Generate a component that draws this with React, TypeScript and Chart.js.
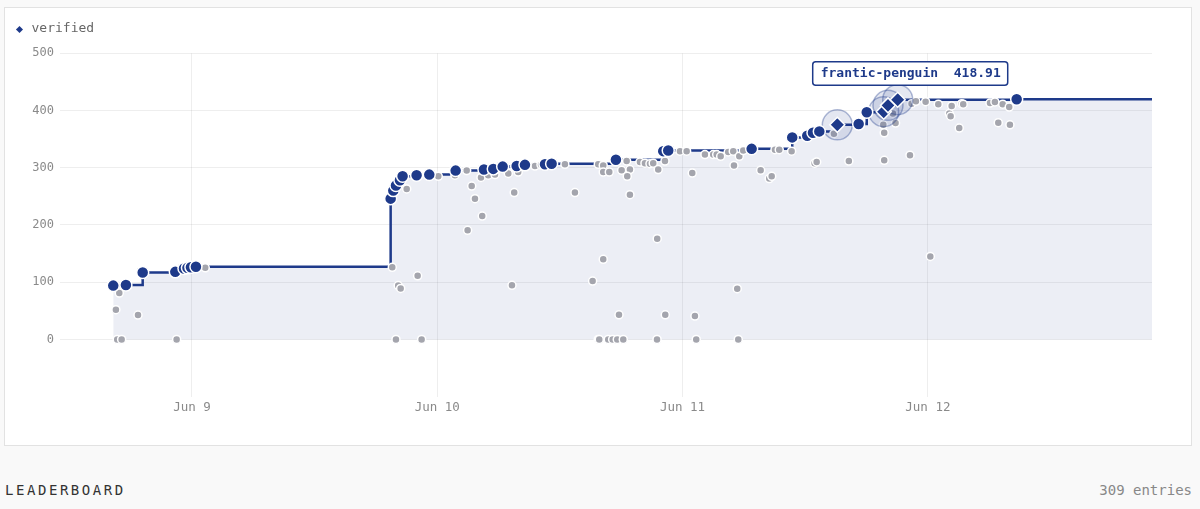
import { useEffect, useRef } from "react";
import { Chart, registerables } from "chart.js";

Chart.register(...registerables);

// ---- axis definitions (x = hours since Jun 9 00:00) ----
const DAY_TICKS = [0, 24, 48, 72];
const DAY_LABELS = ["Jun 9", "Jun 10", "Jun 11", "Jun 12"];
const X_MIN = -12.91;
const X_MAX = 93.93;
const Y_TICKS = [0, 100, 200, 300, 400, 500];
const Y_MIN = -100;
const Y_MAX = 500;

// ---- verified records (running best) ----
const RECORD_HOURS = [
  -7.7, -6.46, -4.82, -1.63, -0.78, -0.44, -0.1, 0.39,
  19.44, 19.7, 19.96, 20.35, 20.61, 21.98, 23.22, 25.8, 28.57, 29.48, 30.4, 31.77, 32.58, 34.54, 35.19,
  41.48, 46.11, 46.6, 54.76, 58.73, 60.2, 60.76, 61.38, 63.14, 65.23, 66.02, 67.68, 68.1, 69.05, 80.69,
];
const RECORD_SCORES = [
  94, 95, 117, 118, 124, 125, 126, 127,
  246, 260, 269, 278, 285, 287, 288, 295, 297, 298, 302, 303, 305, 306, 307,
  314, 329, 330, 333, 353, 356, 361, 363.5, 375, 376.5, 397, 398, 409, 418.91, 419.6,
];
const RECORD_HIGHLIGHT = [
  0, 0, 0, 0, 0, 0, 0, 0,
  0, 0, 0, 0, 0, 0, 0, 0, 0, 0, 0, 0, 0, 0, 0,
  0, 0, 0, 0, 0, 0, 0, 0, 1, 0, 0, 1, 1, 1, 0,
];

// ---- all other submissions ----
const OTHER_HOURS = [
  -7.11, -7.44, -5.28, -7.31, -6.88, -1.5, 1.3, 19.6, 20.18, 20.42, 22.08, 19.96, 22.47,
  21.01, 24.1, 25.73, 26.88, 27.37, 27.69, 28.4, 26.97, 28.28, 28.99, 29.65, 30.95, 31.53, 31.92, 31.31,
  33.56, 34.15, 36.49, 37.47, 39.2, 39.75, 39.75,
  40.24, 40.24, 40.83, 42.04, 42.53, 42.85, 42.59, 42.85, 43.83, 44.32, 44.81, 45.13, 45.62, 46.28,
  45.52, 40.24, 41.78, 46.31, 49.21, 53.35, 39.85, 40.73, 41.16, 41.61, 42.2, 45.5, 49.34, 53.45,
  47.75, 48.4, 48.95, 50.19, 51.0, 51.34, 51.73, 52.47, 52.96, 53.55, 53.03, 53.94, 55.64, 56.48,
  56.72, 57.04, 57.46, 58.67,
  60.92, 61.12, 64.27, 62.81, 67.73, 70.25, 67.64, 67.73, 68.84, 68.58, 70.41, 70.83, 71.78, 73.02,
  74.1, 74.23, 74.33, 75.07, 75.31, 75.46, 72.24, 78.89, 80.03, 78.08, 78.56, 79.32, 79.96,
];
const OTHER_SCORES = [
  81, 52, 42.5, 0, 0, 0, 125, 126, 94, 89, 111, 0, 0,
  263, 285, 287, 295, 268, 246, 215.5, 190.6, 283, 287, 288, 290, 256.5, 292.5, 94.4,
  303, 305, 306, 256.5, 102, 306, 0,
  304, 292.5, 292.5, 295.5, 311.7, 296.7, 285, 253, 310, 308, 307, 308, 296.7, 311.7,
  176, 140, 43, 43, 40.7, 88.6, 0, 0, 0, 0, 0, 0, 0, 0,
  329, 329, 290.7, 323, 323, 323, 320, 327.5, 329, 320, 304, 330, 295.5, 281,
  285, 331.6, 331.6, 329,
  308, 310, 311.7, 359.6, 313, 322, 375, 361, 378, 395, 412, 416, 415.5, 411,
  394.6, 390, 408, 369.4, 412, 411, 145, 378.8, 375, 413, 415, 411, 406,
];

const LEGEND_LABEL = "verified";
const TOOLTIP_NAME = "frantic-penguin";
const TOOLTIP_SCORE = 418.91;
const SECTION_TITLE = "LEADERBOARD";
const ENTRY_COUNT = 309;

const NAVY = "#1e3a8a";
const GRAY = "#a4a5ad";
const MONO = "'DejaVu Sans Mono', 'Liberation Mono', monospace";

const tooltipPlugin = {
  id: "fixedTooltip",
  afterDatasetsDraw(chart: any) {
    const idx = RECORD_SCORES.indexOf(TOOLTIP_SCORE);
    if (idx < 0) return;
    const xs = chart.scales.x;
    const ys = chart.scales.y;
    const px = xs.getPixelForValue(RECORD_HOURS[idx]);
    const py = ys.getPixelForValue(RECORD_SCORES[idx]);
    const ctx = chart.ctx;
    const text = `${TOOLTIP_NAME}  ${TOOLTIP_SCORE.toFixed(2)}`;
    ctx.save();
    ctx.font = `bold 13px ${MONO}`;
    const tw = ctx.measureText(text).width;
    const w = tw + 15;
    const h = 23.5;
    const left = px - 85;
    const top = py - 38;
    ctx.beginPath();
    if (ctx.roundRect) ctx.roundRect(left, top, w, h, 3);
    else ctx.rect(left, top, w, h);
    ctx.fillStyle = "#ffffff";
    ctx.fill();
    ctx.lineWidth = 1.5;
    ctx.strokeStyle = NAVY;
    ctx.stroke();
    ctx.fillStyle = NAVY;
    ctx.textBaseline = "middle";
    ctx.textAlign = "left";
    ctx.fillText(text, left + 8, top + h / 2 + 0.5);
    ctx.restore();
  },
};

export default function App() {
  const ref = useRef<HTMLCanvasElement | null>(null);

  useEffect(() => {
    if (!ref.current) return;
    const records = RECORD_HOURS.map((h, i) => ({ x: h, y: RECORD_SCORES[i] }));
    const lineData = [...records, { x: X_MAX, y: RECORD_SCORES[RECORD_SCORES.length - 1] }];
    const others = OTHER_HOURS.map((h, i) => ({ x: h, y: OTHER_SCORES[i] }));
    const highlights = records.filter((_, i) => RECORD_HIGHLIGHT[i] === 1);

    const chart = new Chart(ref.current, {
      type: "scatter",
      data: {
        datasets: [
          {
            type: "line",
            label: "best",
            data: lineData,
            stepped: true,
            borderColor: NAVY,
            borderWidth: 2.5,
            backgroundColor: "rgba(30,58,138,0.085)",
            fill: "origin",
            pointRadius: 0,
            order: 4,
          } as any,
          {
            label: "all",
            data: others,
            pointRadius: 4,
            pointBackgroundColor: GRAY,
            pointBorderColor: "#ffffff",
            pointBorderWidth: 1.5,
            order: 3,
          },
          {
            label: "halo",
            data: highlights,
            pointRadius: 15,
            pointBackgroundColor: "rgba(30,58,138,0.12)",
            pointBorderColor: "rgba(30,58,138,0.35)",
            pointBorderWidth: 1.5,
            order: 2,
          },
          {
            label: LEGEND_LABEL,
            data: records,
            pointStyle: (c: any) => (RECORD_HIGHLIGHT[c.dataIndex] === 1 ? "rectRot" : "circle"),
            pointRadius: (c: any) => (RECORD_HIGHLIGHT[c.dataIndex] === 1 ? 7.5 : 6),
            pointBackgroundColor: NAVY,
            pointBorderColor: "#ffffff",
            pointBorderWidth: 1.5,
            order: 1,
          } as any,
        ],
      },
      options: {
        animation: false,
        responsive: false,
        events: [],
        layout: { padding: { left: 0, right: 39, top: 45.3, bottom: 30 } },
        plugins: {
          legend: { display: false },
          tooltip: { enabled: false },
        },
        scales: {
          x: {
            type: "linear",
            min: X_MIN,
            max: X_MAX,
            afterBuildTicks: (s: any) => {
              s.ticks = DAY_TICKS.map((v) => ({ value: v }));
            },
            afterFit: (s: any) => {
              s.height = 18.4;
            },
            ticks: {
              autoSkip: false,
              maxRotation: 0,
              padding: 4,
              color: "#8a8a8a",
              font: { family: MONO, size: 12.5 },
              callback: (_v: any, i: number) => DAY_LABELS[i],
            },
            grid: { color: "rgba(0,0,0,0.065)", drawTicks: false },
            border: { display: false },
          },
          y: {
            type: "linear",
            min: Y_MIN,
            max: Y_MAX,
            afterBuildTicks: (s: any) => {
              s.ticks = Y_TICKS.map((v) => ({ value: v }));
            },
            afterFit: (s: any) => {
              s.width = 55;
            },
            ticks: {
              padding: 6,
              color: "#8a8a8a",
              font: { family: MONO, size: 12 },
              callback: (v: any) => String(v),
            },
            grid: { color: "rgba(0,0,0,0.065)", drawTicks: false },
            border: { display: false },
          },
        },
      },
      plugins: [tooltipPlugin],
    });
    return () => chart.destroy();
  }, []);

  return (
    <div style={{ position: "fixed", inset: 0, background: "#f9f9f9", fontFamily: MONO, overflow: "hidden" }}>
      <div
        style={{
          position: "absolute",
          left: 4,
          top: 7,
          width: 1188,
          height: 439,
          boxSizing: "border-box",
          border: "1px solid #e2e2e2",
          background: "#ffffff",
        }}
      >
        <canvas ref={ref} width={1186} height={437} style={{ position: "absolute", left: 0, top: 0, width: 1186, height: 437 }} />
        <div
          style={{
            position: "absolute",
            left: 10,
            top: 12,
            display: "flex",
            alignItems: "center",
            fontSize: 13,
            color: "#666",
            lineHeight: "16px",
          }}
        >
          <span
            style={{
              display: "inline-block",
              width: 5,
              height: 5,
              background: NAVY,
              transform: "rotate(45deg)",
              marginLeft: 1.5,
              marginRight: 10,
              marginTop: 3,
            }}
          />
          <span>{LEGEND_LABEL}</span>
        </div>
      </div>
      <div
        style={{
          position: "absolute",
          left: 5,
          top: 481,
          fontSize: 14,
          letterSpacing: 2.55,
          color: "#333",
          lineHeight: "18px",
        }}
      >
        {SECTION_TITLE}
      </div>
      <div
        style={{
          position: "absolute",
          right: 8,
          top: 481,
          fontSize: 14,
          color: "#888",
          lineHeight: "18px",
        }}
      >
        {`${ENTRY_COUNT} entries`}
      </div>
    </div>
  );
}
